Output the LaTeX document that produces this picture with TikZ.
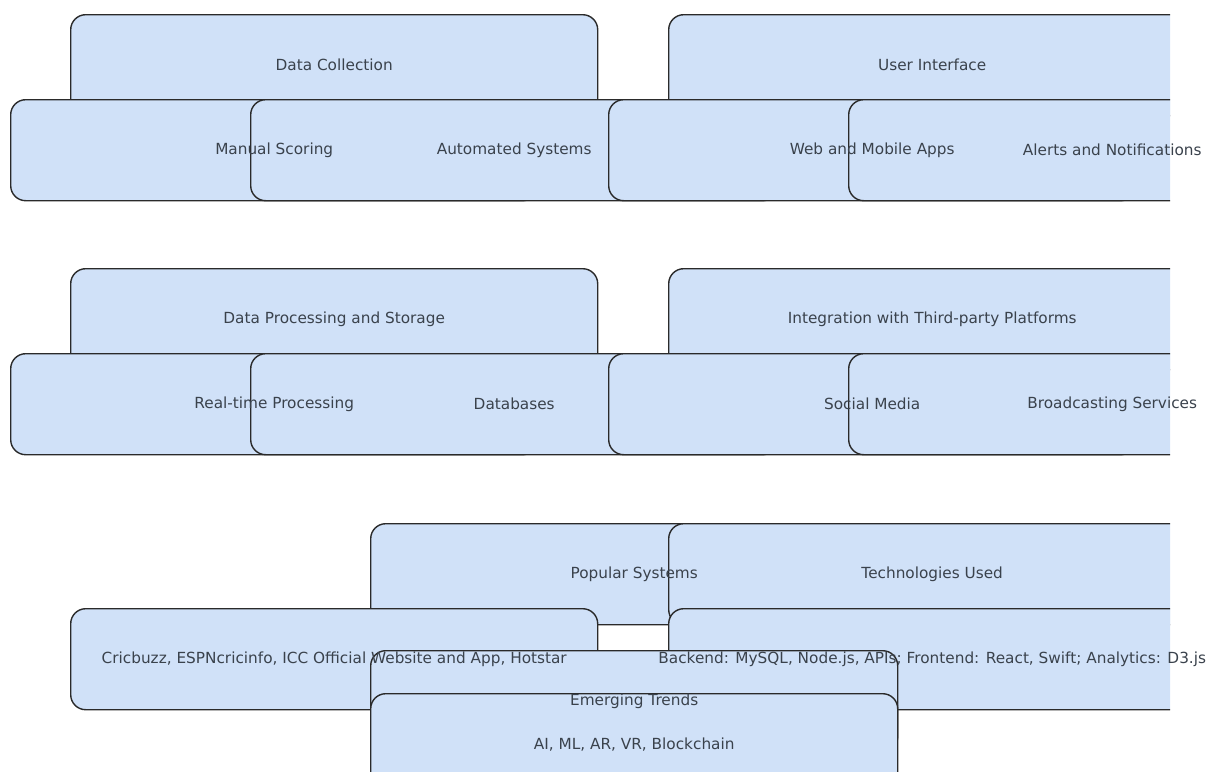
\documentclass[tikz,border=0pt]{standalone}
\usepackage{fontspec}
\setmainfont{DejaVu Sans}
\definecolor{boxfill}{HTML}{D0E1F8}
\definecolor{boxline}{HTML}{2A2A2A}
\definecolor{txt}{HTML}{3A424C}
\begin{document}
\begin{tikzpicture}[x=1pt,y=-1pt,
  box/.style={draw=boxline,fill=boxfill,line width=1.4pt,rounded corners=15pt,
    anchor=north west,minimum width=527pt,minimum height=101pt,inner sep=0pt},
  lbl/.style={text=txt,font=\fontsize{15.3pt}{17pt}\selectfont,inner sep=0pt}]
\useasboundingbox (0,0) rectangle (1206,771);
\begin{scope}
\clip (0,0) rectangle (1170,771);
% row 1
\node[box] (dc) at (70,14) {};
\node[box] (ms) at (10,99) {};
\node[box] (as) at (250,99) {};
\node[box] (ui) at (668,14) {};
\node[box] (wm) at (608,99) {};
\node[box] (an) at (848,99) {};
% row 2
\node[box] (dp) at (70,268) {};
\node[box] (rt) at (10,353) {};
\node[box] (db) at (250,353) {};
\node[box] (it) at (668,268) {};
\node[box] (sm) at (608,353) {};
\node[box] (bs) at (848,353) {};
% row 3
\node[box] (ps) at (370,523) {};
\node[box] (cb) at (70,608) {};
\node[box] (tu) at (668,523) {};
\node[box] (be) at (668,608) {};
\node[box] (et) at (370,650) {};
\node[box] (ai) at (370,693) {};
\end{scope}
\node[lbl] (tdc) at (dc.center) {Data Collection};
\node[lbl] (tms) at (ms.center) {Manual Scoring};
\node[lbl] (tas) at (as.center) {Automated Systems};
\node[lbl] (tui) at (ui.center) {User Interface};
\node[lbl] (twm) at (wm.center) {Web and Mobile Apps};
\node[lbl] (tan) at (an.center) {Alerts and Notifications};
\node[lbl] (tdp) at (dp.center) {Data Processing and Storage};
\node[lbl] (trt) at (rt.center) {Real-time Processing};
\node[lbl] (tdb) at (db.center) {Databases};
\node[lbl] (tit) at (it.center) {Integration with Third-party Platforms};
\node[lbl] (tsm) at (sm.center) {Social Media};
\node[lbl] (tbs) at (bs.center) {Broadcasting Services};
\node[lbl] (tps) at (ps.center) {Popular Systems};
\node[lbl] (tcb) at (cb.center) {Cricbuzz, ESPNcricinfo, ICC Official Website and App, Hotstar};
\node[lbl] (ttu) at (tu.center) {Technologies Used};
\node[lbl] (tbe) at (be.center) {Backend: MySQL, Node.js, APIs; Frontend: React, Swift; Analytics: D3.js};
\node[lbl] (tet) at (et.center) {Emerging Trends};
\node[lbl] (tai) at (ai.center) {AI, ML, AR, VR, Blockchain};
\end{tikzpicture}
\end{document}
